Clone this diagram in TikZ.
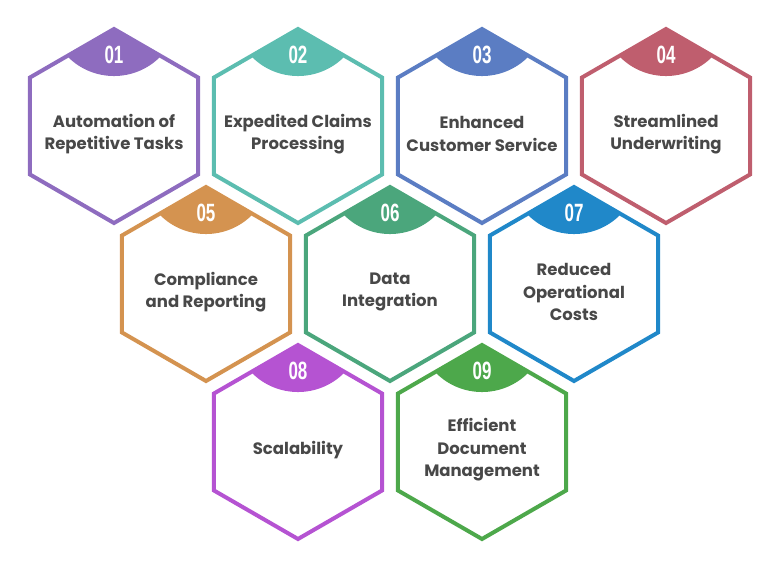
\documentclass[tikz,border=0pt]{standalone}
\usepackage{fontspec}
\setmainfont{Poppins}
\newfontfamily\numfont[FakeStretch=0.68]{Liberation Sans}
\definecolor{cA}{HTML}{8E6CBF}
\definecolor{cB}{HTML}{5CBDB0}
\definecolor{cC}{HTML}{5B7DC3}
\definecolor{cD}{HTML}{BF5E6E}
\definecolor{cE}{HTML}{D49350}
\definecolor{cF}{HTML}{4BA67C}
\definecolor{cG}{HTML}{2088C9}
\definecolor{cH}{HTML}{B553D2}
\definecolor{cI}{HTML}{4DA84B}
\definecolor{textgray}{HTML}{484848}

\begin{document}
\begin{tikzpicture}[x=1pt,y=1pt,
  hexline/.style={line width=4pt},
  celltext/.style={font=\bfseries\fontsize{16.5}{22.5}\selectfont, text=textgray, align=center},
  numtext/.style={font=\numfont\bfseries\fontsize{25}{25}\selectfont, text=white}]
  \useasboundingbox (0,0) rectangle (780,576);
  \foreach \cx/\cy/\col/\num/\txt in {
      114/450/cA/01/{Automation of\\Repetitive Tasks},
      298/450/cB/02/{Expedited Claims\\Processing},
      482/450/cC/03/{Enhanced\\Customer Service},
      666/450/cD/04/{Streamlined\\Underwriting},
      206/292/cE/05/{Compliance\\and Reporting},
      390/292/cF/06/{Data\\Integration},
      574/292/cG/07/{Reduced\\Operational\\Costs},
      298/134/cH/08/{Scalability},
      482/134/cI/09/{Efficient\\Document\\Management}} {
    \begin{scope}[shift={(\cx,\cy)}]
      \coordinate (c\num) at (0,0);
      \fill[\col] (0,97) -- (-47,70) .. controls (-21.4,43.3) and (21.4,43.3) .. (47,70) -- cycle;
      \draw[hexline, \col] (90:97) -- (150:97) -- (210:97) -- (270:97) -- (330:97) -- (30:97) -- cycle;
      \node[numtext] (n\num) at (0,71) {\num};
      \node[celltext] (t\num) at (0,-8) {\txt};
    \end{scope}
  }
\end{tikzpicture}
\end{document}
